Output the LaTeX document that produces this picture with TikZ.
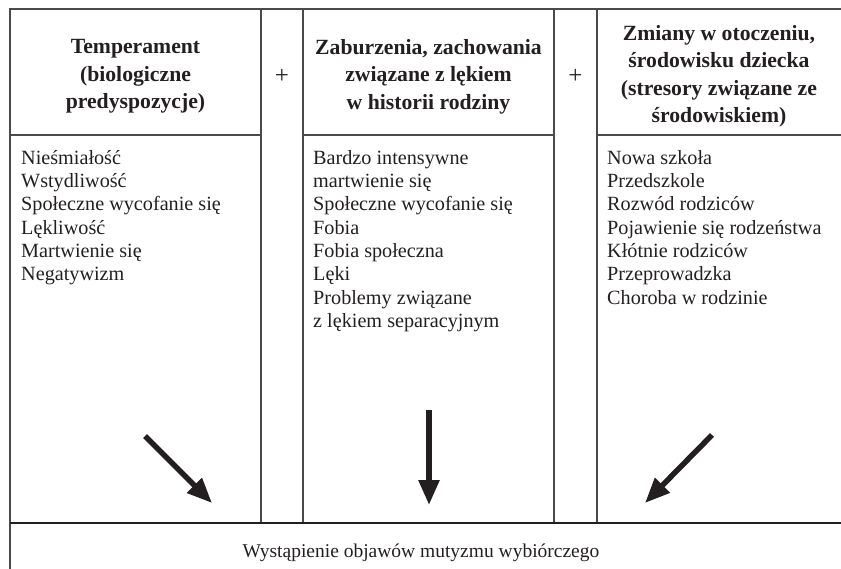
\documentclass[tikz,border=0pt]{standalone}
\usepackage{fontspec}
\setmainfont{Liberation Serif}
\usetikzlibrary{arrows.meta}
\definecolor{rule}{HTML}{4A4A4A}
\definecolor{ink}{HTML}{231F20}
\tikzset{
  headtext/.style={font=\fontsize{21.7}{27.5}\selectfont\bfseries,align=center,text=ink,inner sep=0pt},
  listtext/.style={font=\fontsize{20.2}{23.3}\selectfont,align=left,anchor=north west,inner sep=0pt,text=ink},
  plussign/.style={font=\fontsize{25}{28}\selectfont,text=ink,inner sep=0pt},
  gridline/.style={rule,line width=1.2pt},
  bigarrow/.style={ink,line width=5.5pt,-{Triangle[length=25pt,width=20pt]}},
}
\begin{document}
\begin{tikzpicture}[x=1pt,y=-1pt]
    \useasboundingbox (0,0) rectangle (841,569);
    \draw [gridline] (841,9) -- (10,9) -- (10,569);
    \draw [gridline] (261,9) -- (261,523) (303,9) -- (303,523);
    \draw [gridline] (554,9) -- (554,523) (597,9) -- (597,523);
    \draw [gridline] (10,135) -- (261,135) (303,135) -- (554,135) (597,135) -- (841,135);
    \draw [ink,line width=2.4pt] (10,523) -- (841,523);
    \node [headtext] (temp) at (135.5,76.5) {Temperament\\(biologiczne\\predyspozycje)};
    \node [headtext] (hist) at (428.5,76.5) {Zaburzenia, zachowania\\związane z lękiem\\w historii rodziny};
    \node [headtext] (env) at (719,76.5) {Zmiany w otoczeniu,\\środowisku dziecka\\(stresory związane ze\\środowiskiem)};
    \node [plussign] (p1) at (282,76) {+};
    \node [plussign] (p2) at (575.5,76) {+};
    \node [listtext] (traits) at (21,150) {Nieśmiałość\\Wstydliwość\\Społeczne wycofanie się\\Lękliwość\\Martwienie się\\Negatywizm};
    \node [listtext] (family) at (313,150) {Bardzo intensywne\\martwienie się\\Społeczne wycofanie się\\Fobia\\Fobia społeczna\\Lęki\\Problemy związane\\z lękiem separacyjnym};
    \node [listtext] (stress) at (607,150) {Nowa szkoła\\Przedszkole\\Rozwód rodziców\\Pojawienie się rodzeństwa\\Kłótnie rodziców\\Przeprowadzka\\Choroba w rodzinie};
    \node [font=\fontsize{19.5}{23}\selectfont,text=ink] (result) at (421,553) {Wystąpienie objawów mutyzmu wybiórczego};
    \coordinate (s1) at (145,436);
    \coordinate (e1) at (212,503);
    \coordinate (s2) at (429,410);
    \coordinate (e2) at (429,505);
    \coordinate (s3) at (712,435);
    \coordinate (e3) at (645,503);
    \draw [bigarrow] (s1) -- (e1);
    \draw [bigarrow] (s2) -- (e2);
    \draw [bigarrow] (s3) -- (e3);
\end{tikzpicture}
\end{document}
